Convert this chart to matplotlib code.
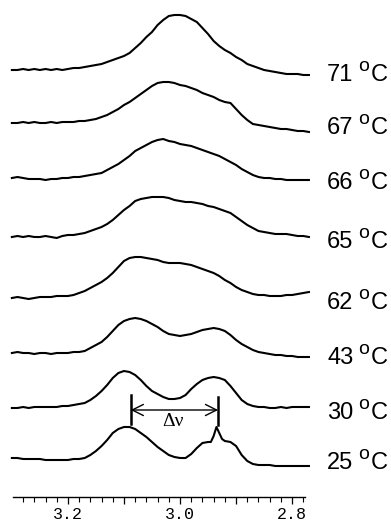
import numpy as np
import matplotlib
matplotlib.use("Agg")
import matplotlib.pyplot as plt
from matplotlib.ticker import MultipleLocator, FuncFormatter

# chemical shift grid (ppm), shared by all spectra
ppm = np.linspace(3.30, 2.77, 54)

temps = ["71", "67", "66", "65", "62", "43", "30"]

# intensities (arbitrary units)
t71 = [0, 0, 1, 0, 1, 0, 1, 0, 1, 0, 1, 2, 2, 3, 4, 5, 6, 8, 10, 12,
       14, 17, 22, 27, 33, 38, 45, 50, 54, 55, 55, 54, 51, 48, 42, 36, 29, 24, 20, 17,
       13, 10, 6, 4, 2, 0, -1, -2, -3, -4, -4, -4, -5, -5]
t67 = [0, 0, 1, 0, 1, 0, 0, 1, 0, 1, 1, 1, 2, 2, 3, 4, 6, 8, 11, 14,
       18, 21, 25, 29, 33, 37, 40, 41, 41, 40, 38, 37, 35, 33, 30, 28, 26, 23, 21, 20,
       14, 8, 3, -1, -2, -3, -4, -5, -6, -6, -7, -8, -8, -9]
t66 = [0, 1, 0, -1, -1, -1, -2, -1, -1, 0, 0, 1, 1, 2, 3, 4, 5, 8, 11, 14,
       18, 22, 27, 30, 33, 36, 38, 39, 37, 36, 34, 33, 32, 30, 28, 26, 24, 22, 19, 16,
       13, 9, 6, 3, 1, 0, 0, -1, -1, -2, -2, -2, -2, -2]
t65 = [0, 1, 0, 1, 0, 0, 1, 0, -1, 1, 2, 2, 3, 4, 6, 8, 10, 13, 17, 22,
       27, 31, 36, 38, 39, 40, 40, 40, 39, 37, 36, 35, 35, 34, 33, 31, 30, 28, 26, 24,
       20, 16, 12, 9, 6, 5, 4, 3, 3, 3, 2, 1, 1, 0]
t62 = [0, 1, 0, -1, 0, 1, 1, 1, 2, 2, 2, 3, 5, 7, 10, 13, 16, 20, 25, 31,
       37, 40, 41, 41, 40, 39, 38, 36, 35, 35, 35, 34, 33, 31, 29, 27, 25, 22, 18, 15,
       11, 8, 6, 4, 3, 3, 2, 2, 2, 3, 3, 4, 5, 6]
t43 = [0, 1, 0, 0, -1, 0, 0, -1, 0, 0, 0, 1, 1, 2, 5, 8, 11, 16, 22, 28,
       32, 34, 35, 34, 32, 29, 26, 22, 19, 18, 17, 18, 19, 21, 23, 24, 25, 24, 22, 18,
       13, 9, 6, 3, 1, 0, -1, -2, -2, -3, -3, -4, -4, -4]
t30 = [0, 0, 1, 0, 1, 1, 1, 1, 1, 2, 2, 3, 4, 5, 8, 12, 17, 23, 30, 35,
       37, 36, 33, 28, 22, 17, 14, 11, 9, 9, 10, 13, 19, 24, 28, 30, 31, 30, 28, 22,
       15, 8, 4, 2, 1, 1, 0, 0, 1, 0, 1, 1, 1, 1]

# 25 C spectrum has a sharp line, so it gets a few extra points around it
ppm_25 = np.sort(np.concatenate([ppm, [2.945, 2.935, 2.925]]))[::-1]
t25 = [0, 0, -1, -1, -1, -1, -2, -2, -2, -2, -2, -1, -1, 0, 3, 7, 12, 18, 25, 29,
       31, 31, 29, 25, 21, 16, 11, 7, 3, 1, 0, 0, 4, 10, 15, 16,
       16, 22, 31, 25, 19, 17, 16, 12,
       3, -3, -6, -7, -7, -7, -8, -8, -8, -8, -8, -8, -8]

# splitting marker between the two resolved peaks (ppm)
dnu_left, dnu_right = 3.088, 2.932

spectra = [(ppm, t71), (ppm, t67), (ppm, t66), (ppm, t65),
           (ppm, t62), (ppm, t43), (ppm, t30), (ppm_25, t25)]
labels = temps + ["25"]
offsets = [427, 374, 319, 260, 199, 144, 89, 39]

fig = plt.figure(figsize=(3.91, 5.23), dpi=100)
ax = fig.add_axes([13 / 391, 26 / 523, 292 / 391, 497 / 523])

for (x, y), off, lab in zip(spectra, offsets, labels):
    ax.plot(x, np.array(y) + off, color="black", lw=1.5, clip_on=False)
    ax.text(2.7375, off - 11, lab, fontsize=17, family="Liberation Sans",
            va="baseline", ha="left")
    ax.text(2.682, off - 1, "o", fontsize=14, family="Liberation Sans",
            va="baseline", ha="left")
    ax.text(2.659, off - 11, "C", fontsize=17, family="Liberation Sans",
            va="baseline", ha="left")

# delta nu marker
ax.plot([dnu_left, dnu_left], [73, 102], color="black", lw=1.8)
ax.plot([dnu_right, dnu_right], [72, 100], color="black", lw=1.8)
ax.annotate("", xy=(dnu_right, 87), xytext=(dnu_left, 87),
            arrowprops=dict(arrowstyle="<->,head_length=0.8,head_width=0.4",
                            color="black", lw=1.0, shrinkA=0, shrinkB=0))
ax.text(3.0125, 76, "\u0394\u03bd", fontsize=14, family="Liberation Serif",
        ha="center", va="center")

ax.set_xlim(3.298, 2.777)
ax.set_ylim(0, 497)
for s in ["left", "right", "top"]:
    ax.spines[s].set_visible(False)
ax.spines["bottom"].set_linewidth(1.0)
ax.set_yticks([])
ax.xaxis.set_major_locator(MultipleLocator(0.1))
ax.xaxis.set_minor_locator(MultipleLocator(0.02))
ax.xaxis.set_major_formatter(FuncFormatter(
    lambda v, _: f"{v:.1f}" if round(v * 10) % 2 == 0 else ""))
ax.tick_params(axis="x", which="major", length=5, width=0.9, pad=2,
               labelsize=12)
ax.tick_params(axis="x", which="minor", length=3.5, width=0.8)
for t in ax.get_xticklabels():
    t.set_family("Liberation Mono")

fig.savefig("out.png", dpi=100)
